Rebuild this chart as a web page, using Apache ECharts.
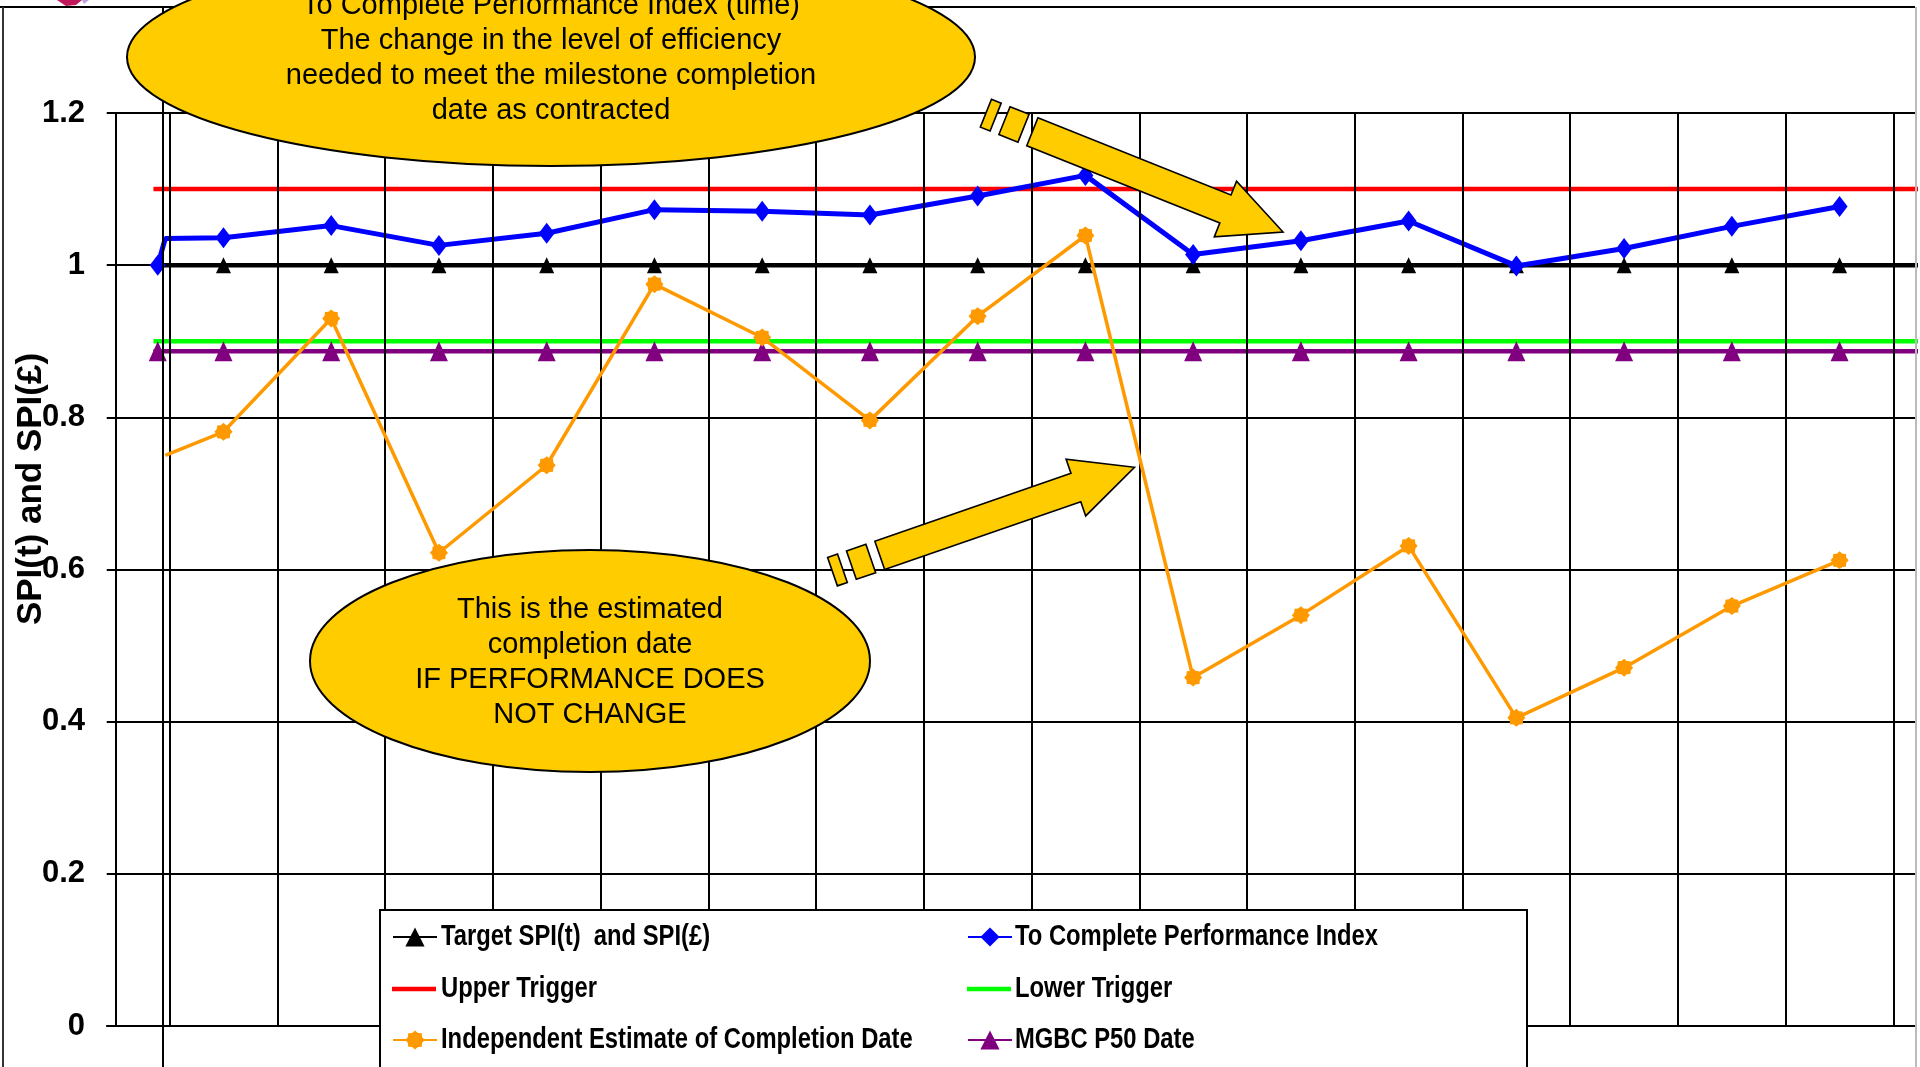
<!DOCTYPE html>
<html>
<head>
<meta charset="utf-8">
<title>SPI(t) and SPI(£)</title>
<script src="https://cdn.jsdelivr.net/npm/echarts@6/dist/echarts.min.js"></script>
<style>
  html, body { margin: 0; padding: 0; background: #ffffff; }
  #chart { width: 1920px; height: 1067px; }
</style>
</head>
<body>
<div id="chart"></div>
<script>
// ---- data -------------------------------------------------------------
// Reporting periods along the horizontal axis
const periods = [1, 2, 3, 4, 5, 6, 7, 8, 9, 10, 11, 12, 13, 14, 15, 16];

// Baseline samples taken just before period 1 ([period position, value])
const tcpiBaseline = [[0.39, 1.0], [0.46, 1.035]];
const ieBaseline = [[0.46, 0.750]];

// To Complete Performance Index, one value per period
const tcpiValues = [1.036, 1.052, 1.026, 1.042, 1.073, 1.071, 1.066, 1.091,
                    1.118, 1.014, 1.032, 1.058, 0.999, 1.022, 1.051, 1.077];

// Independent Estimate of Completion Date, one value per period
const ieValues = [0.781, 0.930, 0.622, 0.737, 0.975, 0.905, 0.796, 0.933,
                  1.039, 0.458, 0.540, 0.631, 0.405, 0.471, 0.552, 0.612];

// Constant reference levels
const targetSPI = 1.0;
const upperTrigger = 1.1;
const lowerTrigger = 0.9;
const mgbcP50 = 0.887;

// Where the constant levels begin and end on the period axis
const triggerSpan = [0.35, 16.9];
const targetSpan = [0.44, 16.9];
const mgbcFirstMarker = 0.39;

// Value axis ticks
const yMin = 0, yMax = 1.2, yStep = 0.2;

const seriesNames = [
  'Target SPI(t)  and SPI(£)',
  'To Complete Performance Index',
  'Upper Trigger',
  'Lower Trigger',
  'Independent Estimate of Completion Date',
  'MGBC P50 Date'
];

// ---- helpers ----------------------------------------------------------
const hidden = (x, y) => ({ value: [x, y], symbol: 'none' });
const levelLine = (span, v, markerXs) => {
  const pts = [hidden(span[0], v)];
  (markerXs || []).forEach(x => pts.push([x, v]));
  pts.push(hidden(span[1], v));
  return pts;
};

const tcpiData = tcpiBaseline.map((p, i) => i === 0 ? p : hidden(p[0], p[1]))
  .concat(periods.map((p, i) => [p, tcpiValues[i]]));
const ieData = ieBaseline.map(p => hidden(p[0], p[1]))
  .concat(periods.map((p, i) => [p, ieValues[i]]));
const targetData = levelLine(targetSpan, targetSPI, periods);
const upperData = levelLine(triggerSpan, upperTrigger);
const lowerData = levelLine(triggerSpan, lowerTrigger);
const mgbcData = levelLine(triggerSpan, mgbcP50, [mgbcFirstMarker].concat(periods));

// period boundaries carry the vertical grid lines
const boundaries = periods.map(p => p - 0.5).concat([periods[periods.length - 1] + 0.5]);

// star marker used for the independent estimate
const starPath = 'path://M20,10L17.39,13.06L17.07,17.07L13.06,17.39L10,20L6.94,17.39L2.93,17.07L2.61,13.06L0,10L2.61,6.94L2.93,2.93L6.94,2.61L10,0L13.06,2.61L17.07,2.93L17.39,6.94Z';
// plain bar used as legend key for the trigger levels
const barIcon = 'path://M0,0H44V4.5H0Z';

// striped block arrow built along the tail -> tip direction
function stripedArrow(tail, tip) {
  const dx = tip[0] - tail[0], dy = tip[1] - tail[1];
  const L = Math.hypot(dx, dy);
  const ux = dx / L, uy = dy / L, nx = -uy, ny = ux;
  const P = (s, t) => [tail[0] + s * ux + t * nx, tail[1] + s * uy + t * ny];
  const bw = 15, hw = 30, hb = L - 62;
  const style = { fill: '#FFCC00', stroke: '#000000', lineWidth: 1.6 };
  const poly = pts => ({ type: 'polygon', z: 100, silent: true, shape: { points: pts }, style });
  return [
    poly([P(0, -bw), P(10.5, -bw), P(10.5, bw), P(0, bw)]),
    poly([P(20, -bw), P(40.5, -bw), P(40.5, bw), P(20, bw)]),
    poly([P(50, -bw), P(hb, -bw), P(hb, -hw), P(L, 0), P(hb, hw), P(hb, bw), P(50, bw)])
  ];
}

const sansFont = "'Liberation Sans', Arial, sans-serif";

// legend: two columns of three keys; captions are set in a condensed face beside each key
const legendRows = [937, 989, 1040];
const legendCols = [{ icon: 392, text: 441 }, { icon: 967, text: 1015 }];
const legendSlots = [
  { name: seriesNames[0], col: 0, row: 0 },
  { name: seriesNames[2], col: 0, row: 1, icon: barIcon },
  { name: seriesNames[4], col: 0, row: 2 },
  { name: seriesNames[1], col: 1, row: 0 },
  { name: seriesNames[3], col: 1, row: 1, icon: barIcon },
  { name: seriesNames[5], col: 1, row: 2 }
];
const legendKeyHeight = 24;
const legends = legendSlots.map(s => ({
  left: legendCols[s.col].icon, top: legendRows[s.row] - legendKeyHeight / 2,
  itemWidth: 44, itemHeight: legendKeyHeight, padding: 0, selectedMode: false, z: 60,
  formatter: () => '', textStyle: { fontSize: 12 },
  data: [s.icon ? { name: s.name, icon: s.icon } : s.name]
}));
const legendCaptions = legendSlots.map(s => ({
  type: 'text', z: 61, silent: true,
  x: legendCols[s.col].text, y: legendRows[s.row], scaleX: 0.82,
  style: {
    text: s.name, fill: '#000000', fontFamily: sansFont, fontWeight: 'bold', fontSize: 29,
    textAlign: 'left', textVerticalAlign: 'middle'
  }
}));

// ---- chart ------------------------------------------------------------
const chart = echarts.init(document.getElementById('chart'), null, { renderer: 'canvas' });

chart.setOption({
  animation: false,
  backgroundColor: '#ffffff',
  grid: { left: 107, right: 5, top: 113, bottom: 41, containLabel: false },
  xAxis: {
    type: 'value', min: -0.081, max: 16.7,
    axisLine: { show: true, onZero: false, lineStyle: { color: '#000000', width: 2 } },
    axisTick: { show: false }, axisLabel: { show: false }, splitLine: { show: false }
  },
  yAxis: {
    type: 'value', min: yMin, max: yMax, interval: yStep,
    axisLine: { show: true, lineStyle: { color: '#000000', width: 2 } },
    axisTick: { show: true, length: 9, lineStyle: { color: '#000000', width: 2 } },
    splitLine: { show: true, lineStyle: { color: '#000000', width: 2 } },
    axisLabel: {
      color: '#000000', fontFamily: sansFont, fontWeight: 'bold', fontSize: 31, margin: 22
    }
  },
  legend: legends,
  series: [
    {
      name: 'period grid', type: 'line', z: 1, silent: true, data: [],
      markLine: {
        silent: true, symbol: ['none', 'none'], label: { show: false },
        lineStyle: { color: '#000000', width: 2, type: 'solid' },
        emphasis: { disabled: true },
        data: boundaries.map(b => ({ xAxis: b }))
      }
    },
    {
      name: seriesNames[0], type: 'line', z: 3, data: targetData,
      symbol: 'triangle', symbolSize: [15, 16],
      lineStyle: { color: '#000000', width: 4.5 }, itemStyle: { color: '#000000' }
    },
    {
      name: seriesNames[1], type: 'line', z: 4, data: tcpiData,
      symbol: 'diamond', symbolSize: [16, 21],
      lineStyle: { color: '#0000FF', width: 5 }, itemStyle: { color: '#0000FF' }
    },
    {
      name: seriesNames[2], type: 'line', z: 3, data: upperData, symbol: 'none',
      lineStyle: { color: '#FF0000', width: 4.5 }, itemStyle: { color: '#FF0000' }
    },
    {
      name: seriesNames[3], type: 'line', z: 3, data: lowerData, symbol: 'none',
      lineStyle: { color: '#00FF00', width: 4.5 }, itemStyle: { color: '#00FF00' }
    },
    {
      name: seriesNames[4], type: 'line', z: 5, data: ieData,
      symbol: starPath, symbolSize: 18,
      lineStyle: { color: '#FF9900', width: 3.5 }, itemStyle: { color: '#FF9900' }
    },
    {
      name: seriesNames[5], type: 'line', z: 4, data: mgbcData,
      symbol: 'triangle', symbolSize: [18, 20],
      lineStyle: { color: '#800080', width: 4.5 }, itemStyle: { color: '#800080' }
    }
  ],
  graphic: [
    // slide frame
    { type: 'line', z: 20, silent: true, shape: { x1: 0, y1: 7, x2: 1915, y2: 7 }, style: { stroke: '#000000', lineWidth: 2 } },
    { type: 'line', z: 20, silent: true, shape: { x1: 3, y1: 7, x2: 3, y2: 1067 }, style: { stroke: '#333333', lineWidth: 2 } },
    { type: 'line', z: 20, silent: true, shape: { x1: 1916, y1: 7, x2: 1916, y2: 1067 }, style: { stroke: '#bbbbbb', lineWidth: 2 } },
    { type: 'line', z: 20, silent: true, shape: { x1: 163, y1: 7, x2: 163, y2: 1067 }, style: { stroke: '#000000', lineWidth: 2 } },
    // logo corner
    { type: 'polygon', z: 20, silent: true, shape: { points: [[57, 0], [82, 0], [76, 5], [66, 6]] }, style: { fill: '#C2185B' } },
    { type: 'polygon', z: 20, silent: true, shape: { points: [[82, 0], [89, 0], [84, 4]] }, style: { fill: '#B9A3D9' } },
    // legend panel
    { type: 'rect', z: 50, silent: true, shape: { x: 380, y: 910, width: 1147, height: 170 }, style: { fill: '#ffffff', stroke: '#000000', lineWidth: 2 } },
    // value-axis title
    {
      type: 'text', z: 30, silent: true, x: 31, y: 489, rotation: Math.PI / 2,
      style: {
        text: 'SPI(t) and SPI(£)', fill: '#000000', fontFamily: sansFont, fontWeight: 'bold',
        fontSize: 35, textAlign: 'center', textVerticalAlign: 'middle'
      }
    },
    // callouts
    { type: 'ellipse', z: 100, silent: true, shape: { cx: 551, cy: 57, rx: 424, ry: 109 }, style: { fill: '#FFCC00', stroke: '#000000', lineWidth: 2 } },
    {
      type: 'text', z: 101, silent: true, x: 551, y: 58,
      style: {
        text: 'To Complete Performance Index (time)\nThe change in the level of efficiency\nneeded to meet the milestone completion\ndate as contracted',
        fill: '#000000', fontFamily: sansFont, fontSize: 29, lineHeight: 35,
        textAlign: 'center', textVerticalAlign: 'middle'
      }
    },
    { type: 'ellipse', z: 100, silent: true, shape: { cx: 590, cy: 661, rx: 280, ry: 111 }, style: { fill: '#FFCC00', stroke: '#000000', lineWidth: 2 } },
    {
      type: 'text', z: 101, silent: true, x: 590, y: 662,
      style: {
        text: 'This is the estimated\ncompletion date\nIF PERFORMANCE DOES\nNOT CHANGE',
        fill: '#000000', fontFamily: sansFont, fontSize: 29, lineHeight: 35,
        textAlign: 'center', textVerticalAlign: 'middle'
      }
    }
  ].concat(legendCaptions)
   .concat(stripedArrow([985.9, 113.2], [1283, 232]))
   .concat(stripedArrow([832.5, 571.7], [1134.5, 467.3]))
});
</script>
</body>
</html>
